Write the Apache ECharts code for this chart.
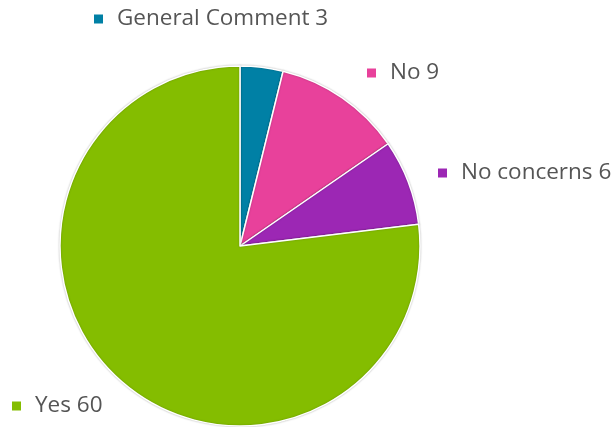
<!DOCTYPE html>
<html>
<head>
<meta charset="utf-8">
<script src="https://cdn.jsdelivr.net/npm/echarts@6/dist/echarts.min.js"></script>
<style>
  html, body { margin: 0; padding: 0; background: #ffffff; }
  #chart { width: 614px; height: 427px; }
</style>
</head>
<body>
<div id="chart"></div>
<script>
// Responses, in drawing order clockwise from twelve o'clock
const categories = ['General Comment', 'No', 'No concerns', 'Yes'];
const values = [3, 9, 6, 60];
const colors = ['#0080A5', '#E8419B', '#9C27B4', '#84BD00'];

// Where each outside label sits (left edge, vertical centre)
const labelSpots = [
  { x: 94, y: 19 },
  { x: 367, y: 73 },
  { x: 438, y: 173 },
  { x: 12, y: 406 }
];

const chart = echarts.init(document.getElementById('chart'), null, { renderer: 'canvas' });

const squareStyle = (c) => ({ width: 9, height: 9, lineHeight: 9, backgroundColor: c });

chart.setOption({
  backgroundColor: '#ffffff',
  animation: false,
  series: [{
    type: 'pie',
    center: [240, 246],
    radius: 180,
    startAngle: 90,
    clockwise: true,
    avoidLabelOverlap: false,
    data: categories.map((name, i) => ({
      name: name,
      value: values[i],
      itemStyle: { color: colors[i] }
    })),
    itemStyle: {
      borderColor: '#ffffff',
      borderWidth: 1.5,
      shadowBlur: 2,
      shadowColor: 'rgba(0,0,0,0.25)'
    },
    emphasis: { disabled: true },
    labelLine: { show: false },
    label: {
      show: true,
      position: 'outside',
      formatter: function (p) {
        return '{sq' + p.dataIndex + '|}{gap|}{t|' + p.name + ' ' + p.value + '}';
      },
      rich: {
        sq0: squareStyle(colors[0]),
        sq1: squareStyle(colors[1]),
        sq2: squareStyle(colors[2]),
        sq3: squareStyle(colors[3]),
        gap: { width: 14 },
        t: { fontFamily: '"Open Sans", sans-serif', fontSize: 22.5, color: '#555555' }
      }
    },
    labelLayout: function (params) {
      const s = labelSpots[params.dataIndex];
      return { x: s.x, y: s.y, align: 'left', verticalAlign: 'middle', hideOverlap: false };
    }
  }]
});
</script>
</body>
</html>
